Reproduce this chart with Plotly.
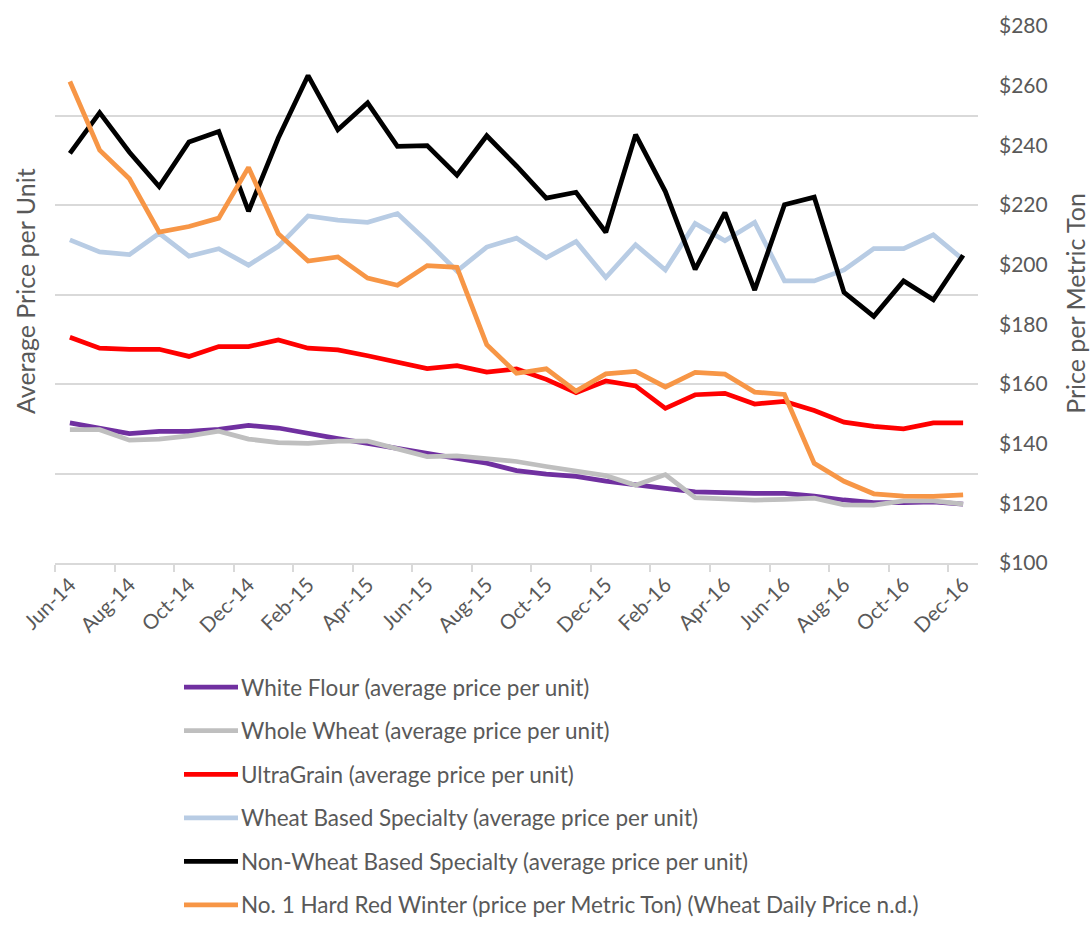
import plotly.graph_objects as go

# Monthly periods on the category axis
months = [
    "Jun-14", "Jul-14", "Aug-14", "Sep-14", "Oct-14", "Nov-14", "Dec-14",
    "Jan-15", "Feb-15", "Mar-15", "Apr-15", "May-15", "Jun-15", "Jul-15",
    "Aug-15", "Sep-15", "Oct-15", "Nov-15", "Dec-15", "Jan-16", "Feb-16",
    "Mar-16", "Apr-16", "May-16", "Jun-16", "Jul-16", "Aug-16", "Sep-16",
    "Oct-16", "Nov-16", "Dec-16",
]

# Average price per unit (left axis)
white_flour = [
    0.783, 0.756, 0.723, 0.736, 0.736, 0.747, 0.769, 0.754, 0.723, 0.695,
    0.668, 0.640, 0.607, 0.585, 0.558, 0.516, 0.497, 0.484, 0.457, 0.435,
    0.417, 0.398, 0.392, 0.389, 0.389, 0.374, 0.352, 0.337, 0.337, 0.341,
    0.329,
]
whole_wheat = [
    0.745, 0.745, 0.686, 0.692, 0.710, 0.736, 0.692, 0.673, 0.668, 0.681,
    0.681, 0.640, 0.594, 0.598, 0.585, 0.567, 0.539, 0.512, 0.488, 0.435,
    0.494, 0.365, 0.356, 0.351, 0.356, 0.362, 0.325, 0.323, 0.347, 0.347,
    0.329,
]
ultragrain = [
    1.261, 1.200, 1.194, 1.194, 1.154, 1.209, 1.209, 1.246, 1.200, 1.191,
    1.158, 1.123, 1.086, 1.103, 1.066, 1.084, 1.026, 0.952, 1.017, 0.989,
    0.864, 0.940, 0.948, 0.888, 0.903, 0.852, 0.787, 0.763, 0.750, 0.783,
    0.783,
]
wheat_specialty = [
    1.805, 1.738, 1.723, 1.842, 1.714, 1.756, 1.664, 1.769, 1.939, 1.916,
    1.903, 1.952, 1.796, 1.631, 1.765, 1.815, 1.705, 1.796, 1.595, 1.778,
    1.637, 1.897, 1.800, 1.903, 1.576, 1.576, 1.637, 1.756, 1.756, 1.833,
    1.695,
]
non_wheat_specialty = [
    2.288, 2.516, 2.295, 2.103, 2.352, 2.411, 1.965, 2.374, 2.723, 2.420,
    2.571, 2.328, 2.332, 2.167, 2.387, 2.218, 2.038, 2.071, 1.848, 2.393,
    2.075, 1.640, 1.958, 1.525, 2.002, 2.044, 1.512, 1.378, 1.576, 1.470,
    1.719,
]

# No. 1 Hard Red Winter, $ per metric ton (right axis)
hrw_wheat = [
    261.4, 238.4, 228.8, 210.9, 212.8, 215.6, 232.6, 210.4, 201.2, 202.6,
    195.5, 193.1, 199.7, 199.1, 173.2, 163.6, 165.1, 157.6, 163.4, 164.2,
    159.0, 163.9, 163.3, 157.3, 156.5, 133.4, 127.4, 123.2, 122.4, 122.3,
    122.8,
]

left_series = [
    ("White Flour (average price per unit)", white_flour, "#7030A0"),
    ("Whole Wheat (average price per unit)", whole_wheat, "#BFBFBF"),
    ("UltraGrain (average price per unit)", ultragrain, "#FF0000"),
    ("Wheat Based Specialty (average price per unit)", wheat_specialty, "#B8CCE4"),
    ("Non-Wheat Based Specialty (average price per unit)", non_wheat_specialty, "#000000"),
]
right_series = [
    ("No. 1 Hard Red Winter (price per Metric Ton) (Wheat Daily Price n.d.)", hrw_wheat, "#F79646"),
]

W, H = 1091, 930
PL, PR, PT, PB = 55, 978, 18, 563
FONT = "Lato"
TEXT = "#595959"
GRID = "#D9D9D9"
LW = 4.75


def px_x(px):
    return (px - PL) / (PR - PL)


def px_y(py):
    return (PB - py) / (PB - PT)


fig = go.Figure()
for name, vals, color in left_series:
    fig.add_trace(go.Scatter(
        x=months, y=vals, name=name, mode="lines", yaxis="y",
        line=dict(color=color, width=LW), showlegend=False,
    ))
for name, vals, color in right_series:
    fig.add_trace(go.Scatter(
        x=months, y=vals, name=name, mode="lines", yaxis="y2",
        line=dict(color=color, width=LW), showlegend=False,
    ))

# Legend drawn as a vertical list below the plot
shapes, annotations = [], []
row0, row_gap = 689, 44.2
for k, (name, _, color) in enumerate(left_series + right_series):
    yy = px_y(row0 + k * row_gap)
    shapes.append(dict(
        type="line", xref="paper", yref="paper",
        x0=px_x(184), x1=px_x(238), y0=yy, y1=yy,
        line=dict(color=color, width=LW),
    ))
    annotations.append(dict(
        xref="paper", yref="paper", x=px_x(239), y=yy,
        xanchor="left", yanchor="middle", showarrow=False, text=name,
        font=dict(family=FONT, size=22.5, color=TEXT),
    ))

# Axis titles
annotations.append(dict(
    xref="paper", yref="paper", x=px_x(25), y=px_y(287),
    xanchor="center", yanchor="middle", showarrow=False, textangle=-90,
    text="Average Price per Unit", font=dict(family=FONT, size=25, color=TEXT),
))
annotations.append(dict(
    xref="paper", yref="paper", x=px_x(1075), y=px_y(300),
    xanchor="center", yanchor="middle", showarrow=False, textangle=-90,
    text="Price per Metric Ton", font=dict(family=FONT, size=25, color=TEXT),
))

fig.update_layout(
    width=W, height=H,
    margin=dict(l=PL, r=W - PR, t=PT, b=H - PB, pad=0),
    paper_bgcolor="white", plot_bgcolor="white",
    font=dict(family=FONT, color=TEXT),
    showlegend=False,
    shapes=shapes, annotations=annotations,
    xaxis=dict(
        type="category", categoryorder="array", categoryarray=months,
        range=[-0.5, len(months) - 0.5],
        tickmode="linear", tick0=0, dtick=2, tickson="boundaries",
        ticks="outside", ticklen=7, tickwidth=1.5, tickcolor=GRID,
        showline=True, linecolor=GRID, linewidth=1.5,
        showgrid=False, zeroline=False,
        tickangle=-45, tickfont=dict(family=FONT, size=20.5, color=TEXT),
    ),
    yaxis=dict(
        range=[0, 3], tick0=0, dtick=0.5,
        showticklabels=False, ticks="",
        showgrid=True, gridcolor=GRID, gridwidth=1.5,
        zeroline=False, showline=False,
    ),
    yaxis2=dict(
        overlaying="y", side="right",
        range=[100, 280], tick0=100, dtick=20, tickprefix="$",
        showgrid=False, zeroline=False, showline=False, ticks="",
        ticklabelstandoff=20,
        tickfont=dict(family=FONT, size=21, color=TEXT),
    ),
)

fig.write_html("out.html")
